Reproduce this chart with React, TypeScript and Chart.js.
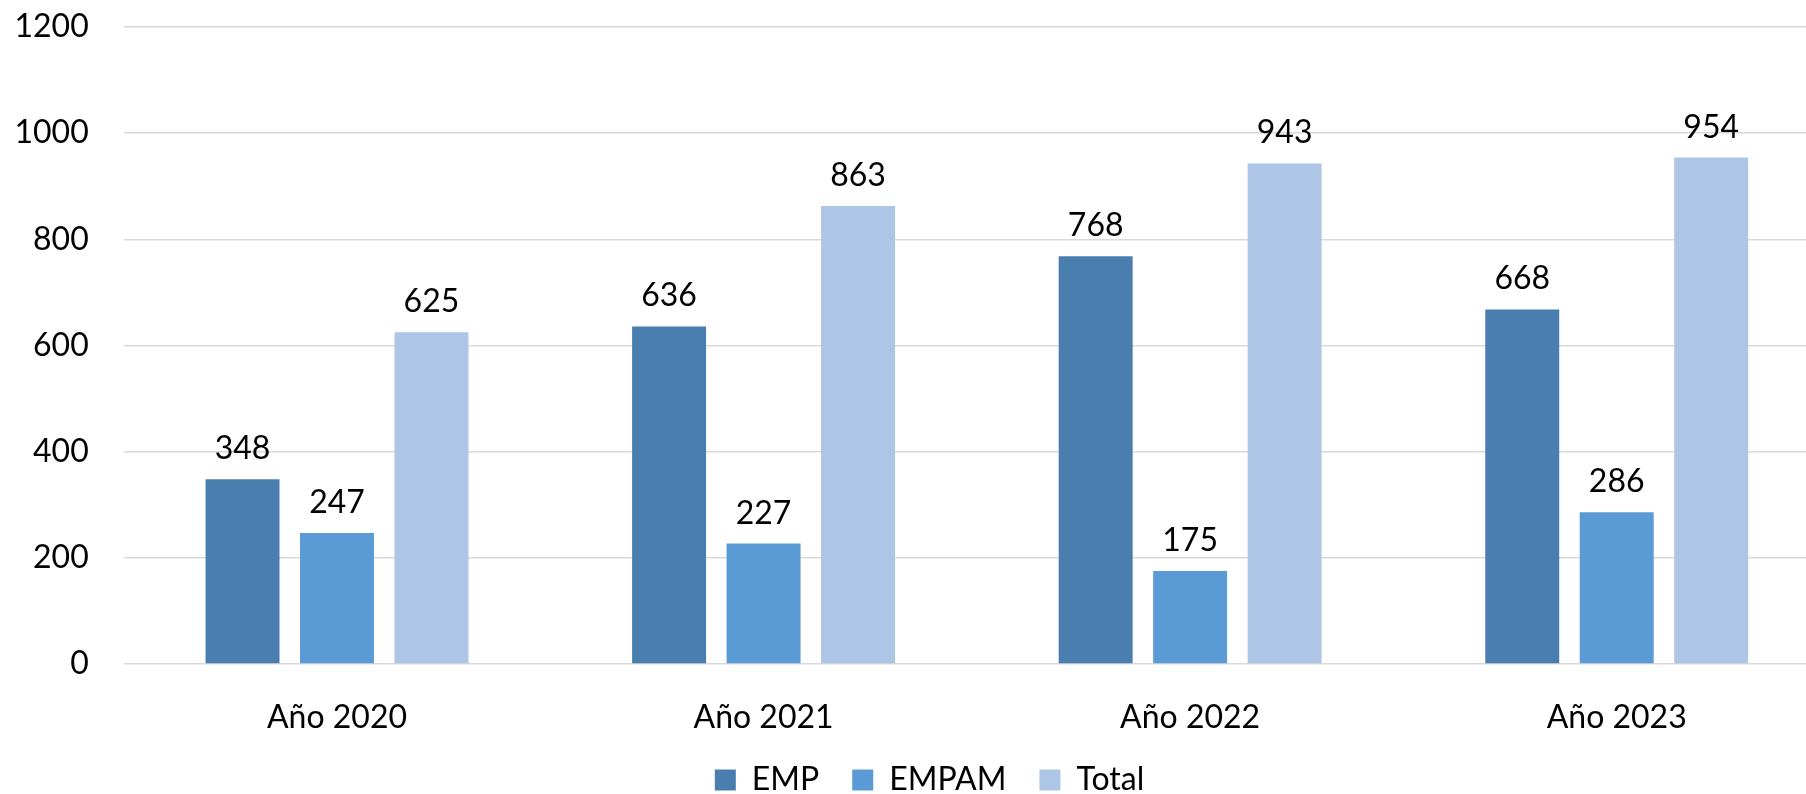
import React, { useEffect, useRef } from "react";
import { Chart, registerables } from "chart.js";

Chart.register(...registerables);

const categories = ["Año 2020", "Año 2021", "Año 2022", "Año 2023"];
const empValues = [348, 636, 768, 668];
const empamValues = [247, 227, 175, 286];
const totalValues = [625, 863, 943, 954];
const seriesNames = ["EMP", "EMPAM", "Total"];
const yTicks = [0, 200, 400, 600, 800, 1000, 1200];

const FONT = "Lato, 'Open Sans', sans-serif";
const FS = 32;

const valueLabels = {
  id: "valueLabels",
  afterDatasetsDraw(chart: any) {
    const ctx = chart.ctx;
    ctx.save();
    ctx.font = `${FS}px ${FONT}`;
    ctx.fillStyle = "#000000";
    ctx.textAlign = "center";
    ctx.textBaseline = "alphabetic";
    chart.data.datasets.forEach((ds: any, i: number) => {
      const meta = chart.getDatasetMeta(i);
      meta.data.forEach((el: any, j: number) => {
        ctx.fillText(String(ds.data[j]), el.x, el.y - 20);
      });
    });
    ctx.restore();
  },
};

export default function App() {
  const ref = useRef<HTMLCanvasElement>(null);
  useEffect(() => {
    if (!ref.current) return;
    const chart = new Chart(ref.current, {
      type: "bar",
      data: {
        labels: categories,
        datasets: [
          { label: seriesNames[0], data: empValues, backgroundColor: "#4A7EAF" },
          { label: seriesNames[1], data: empamValues, backgroundColor: "#5B9BD5" },
          { label: seriesNames[2], data: totalValues, backgroundColor: "#ADC6E5" },
        ],
      },
      options: {
        responsive: false,
        animation: false,
        devicePixelRatio: 1,
        layout: { padding: { left: 29, right: 0, top: 27, bottom: 0 } },
        datasets: {
          bar: { categoryPercentage: 0.6644, barPercentage: 0.783 },
        },
        plugins: {
          tooltip: { enabled: false },
          legend: {
            position: "bottom",
            labels: {
              boxWidth: 21,
              boxHeight: 21,
              padding: 33,
              color: "#000000",
              font: { family: FONT, size: FS },
            },
          },
        },
        scales: {
          x: {
            grid: { display: false, drawTicks: false },
            border: { display: false },
            ticks: { color: "#000000", font: { family: FONT, size: FS }, padding: 34, maxRotation: 0 },
            afterFit(scale: any) {
              scale.height = 67;
              scale.paddingLeft = 0;
              scale.paddingRight = 0;
            },
          },
          y: {
            min: 0,
            max: 1200,
            afterBuildTicks(scale: any) {
              scale.ticks = yTicks.map((v) => ({ value: v }));
            },
            grid: { color: "#D9D9D9", lineWidth: 1.4, drawTicks: false },
            border: { display: false },
            ticks: {
              color: "#000000",
              font: { family: FONT, size: FS },
              padding: 35,
              callback: (v: any) => String(v),
            },
            afterFit(scale: any) {
              scale.width = 94.7;
              scale.paddingTop = 0;
              scale.paddingBottom = 0;
              // let tick labels extend past the axis box (no clipping)
              scale._computeLabelArea = () => undefined;
            },
          },
        },
      },
      plugins: [valueLabels],
    });
    return () => chart.destroy();
  }, []);
  return (
    <div style={{ position: "fixed", left: 0, top: 0, width: 1806, height: 794, overflow: "hidden", background: "#ffffff" }}>
      <canvas ref={ref} width={1830} height={806} style={{ display: "block" }} />
    </div>
  );
}
